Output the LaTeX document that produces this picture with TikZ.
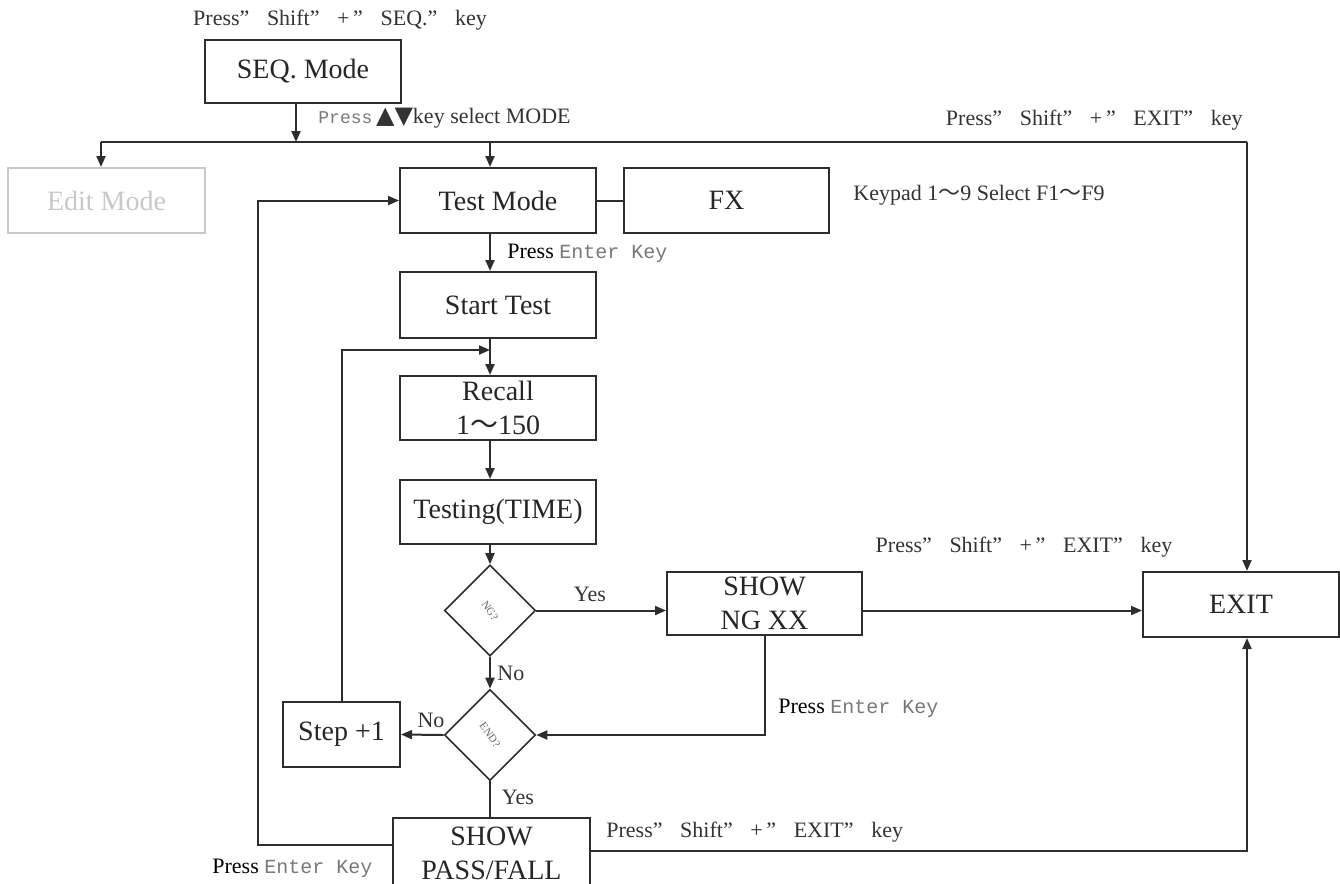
\documentclass[tikz,border=0pt]{standalone}
\usepackage{fontspec}
\setmainfont{Liberation Serif}
\setmonofont{Liberation Mono}
\newfontfamily\symfont{DejaVu Sans}
\newfontfamily\cjk{Noto Sans CJK SC}
\usetikzlibrary{arrows.meta,shapes.geometric,positioning}
\definecolor{linegray}{RGB}{45,45,45}
\definecolor{keygray}{RGB}{120,120,120}
\definecolor{editgray}{RGB}{200,200,200}
\newcommand{\wtilde}{{\cjk ～}}
\newcommand{\qs}{”\hspace{0.8em}}
\newcommand{\ek}{{\ttfamily\fontsize{10}{12}\selectfont\color{keygray}Enter Key}}
\tikzset{
  box/.style={draw=linegray,line width=1pt,minimum width=98pt,minimum height=32.5pt,
              inner sep=0pt,align=center,font=\fontsize{14}{17}\selectfont,text=black!85},
  dia/.style={diamond,draw=linegray,line width=0.8pt,minimum width=45.5pt,
              minimum height=45.5pt,inner sep=0pt,text=black!60},
  arr/.style={-{Triangle[length=5.5pt,width=4.5pt]},line width=1pt,linegray},
  ln/.style={line width=1pt,linegray},
  lbl/.style={font=\fontsize{11}{12}\selectfont,text=black!80,inner sep=0pt}
}
\begin{document}
\begin{tikzpicture}[x=0.5pt,y=-0.5pt]
  \useasboundingbox (0,0) rectangle (1340,884);
  % boxes
  \node[box,minimum height=31.5pt] (seq) at (303,71.5) {SEQ. Mode};
  \node[box,minimum width=98.5pt,draw=editgray,text=editgray] (edit) at (106.5,200.5) {Edit Mode};
  \node[box] (test) at (498,200.5) {Test Mode};
  \node[box,minimum width=102.5pt] (fx) at (726.5,200.5) {FX};
  \node[box,minimum height=33pt] (start) at (498,305) {Start Test};
  \node[box,minimum height=32pt] (recall) at (498,408) {Recall\\1\wtilde150};
  \node[box,minimum height=32pt] (testing) at (498,512) {Testing(TIME)};
  \node[dia] (ng) at (490,610.5) {\rotatebox{-55}{\fontsize{5.5}{6}\selectfont NG?}};
  \node[box,minimum width=97.5pt,minimum height=31.5pt] (shown) at (764.5,603.5) {SHOW\\NG XX};
  \node[box,minimum height=32.5pt] (exit) at (1241,604.5) {EXIT};
  \node[dia] (endd) at (490,735) {\rotatebox{-55}{\fontsize{5.5}{6}\selectfont END?}};
  \node[box,minimum width=58.5pt] (stepb) at (341.5,734.5) {Step +1};
  \node[box,minimum width=98.5pt,minimum height=35pt] (pass) at (491.5,853) {SHOW\\PASS/FALL};
  % junctions
  \coordinate (j) at (296,142);
  \coordinate (lb) at (101,142);
  \coordinate (rb) at (1247,142);
  \coordinate (mb) at (490,142);
  \coordinate (lp) at (490,350);
  \coordinate (pl) at (258,845);
  \coordinate (pr) at (1247,851);
  % connectors
  \draw[arr] (seq.south -| j) -- (j);
  \draw[ln] (lb) -- (rb);
  \draw[arr] (lb) -- (lb |- edit.north);
  \draw[arr] (mb) -- (mb |- test.north);
  \draw[arr] (rb) -- (rb |- exit.north);
  \draw[ln] (test) -- (fx);
  \draw[arr] (mb |- test.south) -- (mb |- start.north);
  \draw[arr] (mb |- start.south) -- (mb |- recall.north);
  \draw[arr] (mb |- recall.south) -- (mb |- testing.north);
  \draw[arr] (mb |- testing.south) -- (ng.north);
  \draw[arr] (ng.east) -- (ng.east -| shown.west);
  \draw[arr] (ng.east -| shown.east) -- (ng.east -| exit.west);
  \draw[arr] (ng.south) -- (endd.north);
  \draw[arr] (shown.south) |- (endd.east);
  \draw[arr] (endd.west) -- (stepb.east);
  \draw[arr] (stepb.north) |- (lp);
  \draw[ln] (endd.south) -- (endd.south |- pass.north);
  \draw[arr] (pass.west |- pl) -- (pl) |- (test.west);
  \draw[arr] (pass.east |- pr) -- (pr) -- (exit.south -| pr);
  % labels
  \node[lbl] (l1) at (340,20) {Press\qs Shift\qs +\,\qs SEQ.\qs key};
  \node[lbl,anchor=west] (l2) at (318,118) {{\ttfamily\fontsize{9}{10}\selectfont\color{keygray}Press}\,{\symfont\fontsize{12}{12}\selectfont ▲▼}key select MODE};
  \node[lbl,anchor=east] (l3) at (1243,120) {Press\qs Shift\qs +\,\qs EXIT\qs key};
  \node[lbl,anchor=west] (l4) at (853,195) {Keypad 1\wtilde9 Select F1\wtilde F9};
  \node[lbl,anchor=west,text=black] (l5) at (507,253) {Press \ek};
  \node[lbl] (l6) at (590,594) {Yes};
  \node[lbl] (l7) at (1024,547) {Press\qs Shift\qs +\,\qs EXIT\qs key};
  \node[lbl,anchor=west] (l8) at (497,673) {No};
  \node[lbl,anchor=west,text=black] (l9) at (778,708) {Press \ek};
  \node[lbl] (l10) at (431,720) {No};
  \node[lbl] (l11) at (518,797) {Yes};
  \node[lbl,anchor=west] (l12) at (606,832) {Press\qs Shift\qs +\,\qs EXIT\qs key};
  \node[lbl,anchor=west,text=black] (l13) at (212,868) {Press \ek};
\end{tikzpicture}
\end{document}
